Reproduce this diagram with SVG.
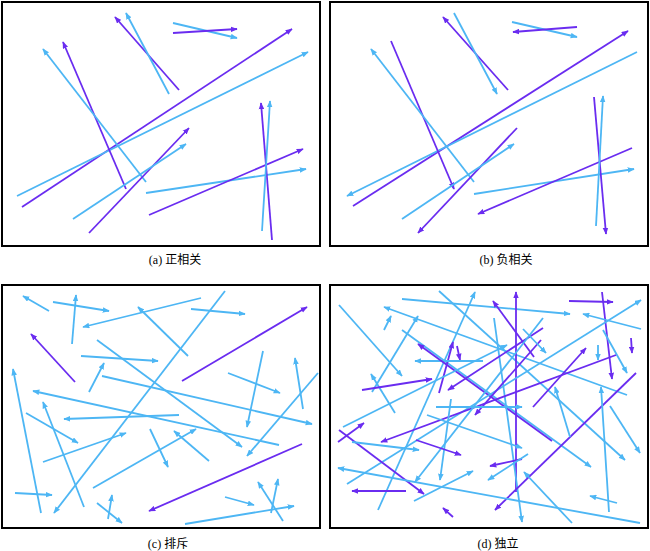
<svg xmlns="http://www.w3.org/2000/svg" width="650" height="551" viewBox="0 0 650 551">
<style>
.f{fill:#fff;stroke:#000;stroke-width:2}
.b{stroke:#4db6f4;stroke-width:1.8;fill:none;marker-end:url(#mb)}
.p{stroke:#6a2cf0;stroke-width:1.8;fill:none;marker-end:url(#mp)}
.t{font-family:"Liberation Serif","Noto Sans CJK SC",serif;font-size:12px;fill:#000;text-anchor:middle}
</style>
<defs>
<marker id="mb" viewBox="0 0 10 8" refX="9" refY="4" markerWidth="7" markerHeight="6" markerUnits="userSpaceOnUse" orient="auto"><path d="M0,0L10,4L0,8z" fill="#4db6f4"/></marker>
<marker id="mp" viewBox="0 0 10 8" refX="9" refY="4" markerWidth="7" markerHeight="6" markerUnits="userSpaceOnUse" orient="auto"><path d="M0,0L10,4L0,8z" fill="#6a2cf0"/></marker>
</defs>
<rect width="650" height="551" fill="#fff"/>
<g id="panel-a">
<rect class="f" x="2" y="2" width="318" height="244"/>
<g id="connectors-a">
<line class="p" x1="22" y1="207" x2="292" y2="29"/>
<line class="b" x1="17" y1="196" x2="308" y2="52"/>
<line class="p" x1="126" y1="189" x2="63" y2="42"/>
<line class="b" x1="146" y1="182" x2="43" y2="49"/>
<line class="p" x1="179" y1="90" x2="115" y2="17"/>
<line class="b" x1="169" y1="94" x2="126" y2="13"/>
<line class="b" x1="173" y1="23" x2="237" y2="38"/>
<line class="p" x1="173" y1="33" x2="237" y2="29"/>
<line class="p" x1="89" y1="233" x2="189" y2="128"/>
<line class="b" x1="73" y1="219" x2="186" y2="144"/>
<line class="b" x1="146" y1="193" x2="306" y2="169"/>
<line class="p" x1="149" y1="215" x2="303" y2="149"/>
<line class="p" x1="272" y1="240" x2="261" y2="103"/>
<line class="b" x1="262" y1="231" x2="270" y2="101"/>
</g>
<text class="t" x="175" y="264">(a) 正相关</text>
</g>
<g id="panel-b">
<rect class="f" x="330" y="2" width="318" height="244"/>
<g id="connectors-b">
<line class="p" x1="353" y1="206" x2="628" y2="31"/>
<line class="b" x1="637" y1="52" x2="347" y2="196"/>
<line class="p" x1="391" y1="41" x2="454" y2="189"/>
<line class="b" x1="474" y1="182" x2="371" y2="49"/>
<line class="p" x1="508" y1="90" x2="443" y2="17"/>
<line class="b" x1="454" y1="13" x2="497" y2="94"/>
<line class="b" x1="512" y1="22" x2="577" y2="37"/>
<line class="p" x1="577" y1="27" x2="513" y2="32"/>
<line class="p" x1="517" y1="128" x2="418" y2="233"/>
<line class="b" x1="402" y1="219" x2="514" y2="144"/>
<line class="b" x1="474" y1="194" x2="634" y2="169"/>
<line class="p" x1="632" y1="148" x2="478" y2="214"/>
<line class="p" x1="594" y1="97" x2="606" y2="234"/>
<line class="b" x1="596" y1="226" x2="603" y2="96"/>
</g>
<text class="t" x="506" y="264">(b) 负相关</text>
</g>
<g id="panel-c">
<rect class="f" x="2" y="285" width="318" height="243"/>
<g id="connectors-c">
<line class="b" x1="49" y1="311" x2="23" y2="296"/>
<line class="b" x1="53" y1="302" x2="109" y2="311"/>
<line class="b" x1="72" y1="344" x2="76" y2="295"/>
<line class="b" x1="201" y1="298" x2="83" y2="327"/>
<line class="b" x1="225" y1="291" x2="54" y2="513"/>
<line class="b" x1="191" y1="309" x2="245" y2="314"/>
<line class="p" x1="182" y1="381" x2="307" y2="307"/>
<line class="p" x1="75" y1="382" x2="31" y2="334"/>
<line class="b" x1="188" y1="356" x2="138" y2="307"/>
<line class="b" x1="97" y1="340" x2="242" y2="447"/>
<line class="b" x1="81" y1="356" x2="158" y2="361"/>
<line class="b" x1="89" y1="392" x2="104" y2="363"/>
<line class="b" x1="102" y1="376" x2="312" y2="424"/>
<line class="b" x1="279" y1="445" x2="33" y2="391"/>
<line class="b" x1="179" y1="415" x2="64" y2="419"/>
<line class="b" x1="41" y1="513" x2="13" y2="369"/>
<line class="b" x1="84" y1="507" x2="43" y2="402"/>
<line class="b" x1="26" y1="413" x2="78" y2="443"/>
<line class="b" x1="43" y1="462" x2="126" y2="433"/>
<line class="b" x1="15" y1="493" x2="52" y2="495"/>
<line class="b" x1="93" y1="488" x2="196" y2="429"/>
<line class="b" x1="150" y1="429" x2="168" y2="467"/>
<line class="b" x1="209" y1="461" x2="174" y2="431"/>
<line class="b" x1="97" y1="503" x2="122" y2="523"/>
<line class="b" x1="108" y1="519" x2="112" y2="495"/>
<line class="b" x1="228" y1="373" x2="280" y2="393"/>
<line class="b" x1="263" y1="351" x2="247" y2="427"/>
<line class="b" x1="303" y1="409" x2="295" y2="358"/>
<line class="b" x1="318" y1="373" x2="247" y2="456"/>
<line class="p" x1="302" y1="444" x2="149" y2="511"/>
<line class="b" x1="225" y1="497" x2="254" y2="505"/>
<line class="b" x1="283" y1="521" x2="258" y2="482"/>
<line class="b" x1="271" y1="513" x2="278" y2="479"/>
<line class="b" x1="185" y1="524" x2="294" y2="506"/>
</g>
<text class="t" x="168" y="548">(c) 排斥</text>
</g>
<g id="panel-d">
<rect class="f" x="330" y="285" width="318" height="243"/>
<g id="connectors-d">
<line class="b" x1="339" y1="305" x2="402" y2="376"/>
<line class="b" x1="402" y1="299" x2="570" y2="314"/>
<line class="b" x1="439" y1="291" x2="625" y2="460"/>
<line class="b" x1="402" y1="330" x2="591" y2="467"/>
<line class="b" x1="627" y1="395" x2="384" y2="307"/>
<line class="b" x1="384" y1="330" x2="391" y2="316"/>
<line class="b" x1="378" y1="510" x2="475" y2="292"/>
<line class="b" x1="395" y1="413" x2="371" y2="374"/>
<line class="b" x1="372" y1="392" x2="418" y2="316"/>
<line class="p" x1="362" y1="390" x2="432" y2="379"/>
<line class="p" x1="439" y1="393" x2="453" y2="342"/>
<line class="p" x1="457" y1="346" x2="460" y2="360"/>
<line class="b" x1="483" y1="361" x2="415" y2="361"/>
<line class="p" x1="552" y1="441" x2="418" y2="344"/>
<line class="p" x1="534" y1="357" x2="493" y2="301"/>
<line class="p" x1="516" y1="492" x2="516" y2="292"/>
<line class="b" x1="494" y1="318" x2="522" y2="522"/>
<line class="p" x1="569" y1="301" x2="613" y2="302"/>
<line class="p" x1="602" y1="292" x2="612" y2="379"/>
<line class="b" x1="641" y1="329" x2="583" y2="314"/>
<line class="b" x1="347" y1="484" x2="641" y2="300"/>
<line class="b" x1="343" y1="427" x2="507" y2="345"/>
<line class="p" x1="543" y1="328" x2="448" y2="390"/>
<line class="p" x1="541" y1="340" x2="475" y2="415"/>
<line class="b" x1="523" y1="329" x2="546" y2="353"/>
<line class="b" x1="598" y1="345" x2="598" y2="360"/>
<line class="p" x1="631" y1="338" x2="632" y2="353"/>
<line class="b" x1="603" y1="330" x2="627" y2="373"/>
<line class="p" x1="533" y1="407" x2="586" y2="348"/>
<line class="p" x1="616" y1="355" x2="381" y2="442"/>
<line class="p" x1="636" y1="373" x2="495" y2="510"/>
<line class="b" x1="436" y1="407" x2="522" y2="407"/>
<line class="b" x1="427" y1="415" x2="522" y2="448"/>
<line class="b" x1="451" y1="399" x2="440" y2="480"/>
<line class="b" x1="543" y1="318" x2="415" y2="482"/>
<line class="p" x1="338" y1="442" x2="364" y2="423"/>
<line class="p" x1="339" y1="430" x2="424" y2="494"/>
<line class="b" x1="352" y1="442" x2="419" y2="450"/>
<line class="p" x1="416" y1="440" x2="461" y2="455"/>
<line class="b" x1="640" y1="523" x2="338" y2="468"/>
<line class="p" x1="406" y1="491" x2="352" y2="491"/>
<line class="b" x1="414" y1="501" x2="473" y2="471"/>
<line class="p" x1="453" y1="517" x2="443" y2="508"/>
<line class="p" x1="522" y1="459" x2="490" y2="466"/>
<line class="b" x1="528" y1="454" x2="488" y2="480"/>
<line class="b" x1="572" y1="523" x2="524" y2="472"/>
<line class="b" x1="570" y1="437" x2="555" y2="387"/>
<line class="b" x1="609" y1="512" x2="601" y2="387"/>
<line class="b" x1="617" y1="503" x2="590" y2="496"/>
<line class="b" x1="610" y1="406" x2="640" y2="453"/>
</g>
<text class="t" x="498" y="548">(d) 独立</text>
</g>
</svg>
